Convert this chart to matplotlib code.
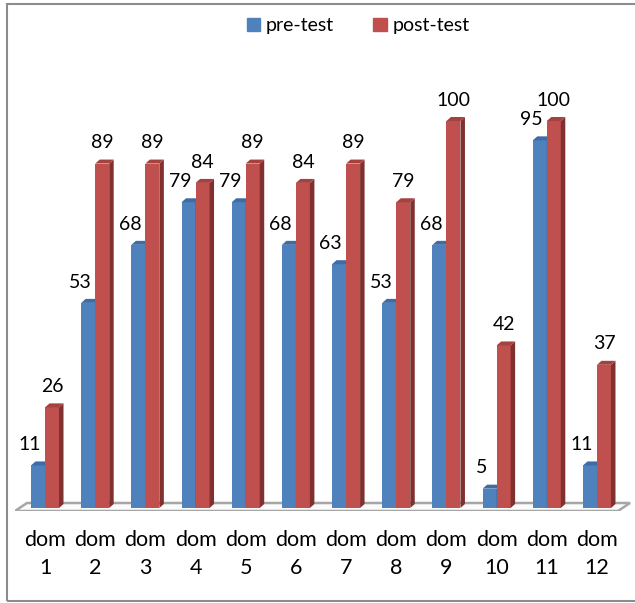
import matplotlib.pyplot as plt
from matplotlib.patches import Polygon, Rectangle, Patch

plt.rcParams['font.family'] = ['Lato', 'DejaVu Sans']

domains = ['dom\n1', 'dom\n2', 'dom\n3', 'dom\n4', 'dom\n5', 'dom\n6',
           'dom\n7', 'dom\n8', 'dom\n9', 'dom\n10', 'dom\n11', 'dom\n12']
pre_test = [11, 53, 68, 79, 79, 68, 63, 53, 68, 5, 95, 11]
post_test = [26, 89, 89, 84, 89, 84, 89, 79, 100, 42, 100, 37]

blue = '#4f81bd'
blue_top = '#3d6ca6'
blue_side = '#385f8f'
red = '#c0504d'
red_top = '#a4423f'
red_side = '#80302e'

W, H = 635, 603
fig = plt.figure(figsize=(W / 100, H / 100), dpi=100)

# plot area in pixel terms: group spacing ~50.2px, 3.87px per unit
px_unit_x = 50.18
px_unit_y = 3.87
x0_px, x1_px = 15, 632
y_top_px, y_bot_px = 60, 511
ax = fig.add_axes([x0_px / W, 1 - y_bot_px / H,
                   (x1_px - x0_px) / W, (y_bot_px - y_top_px) / H])
ax.set_xlim((x0_px - 45) / px_unit_x, (x1_px - 45) / px_unit_x)
ax.set_ylim((508 - y_bot_px) / px_unit_y, (508 - y_top_px) / px_unit_y)
for s in ax.spines.values():
    s.set_visible(False)
ax.set_yticks([])

bw = 14 / px_unit_x      # bar width
dx = 4.5 / px_unit_x     # depth offset
dy = 4 / px_unit_y

# floor
fl = -3 / px_unit_y
fb = 5 / px_unit_y
floor = Polygon([((15 - 45) / px_unit_x, fl), ((618 - 45) / px_unit_x, fl),
                 ((630 - 45) / px_unit_x, fb), ((27 - 45) / px_unit_x, fb)],
                closed=True, facecolor='#fbfbfb', edgecolor='#a6a6a6',
                lw=1.8, zorder=1)
ax.add_patch(floor)


def bar3d(x, v, front, top, side):
    ax.bar(x, v, width=bw, align='edge', color=front, zorder=3)
    ax.add_patch(Polygon([(x + bw, 0), (x + bw + dx, dy), (x + bw + dx, v + dy), (x + bw, v)],
                         closed=True, facecolor=side, edgecolor='none', zorder=3))
    ax.add_patch(Polygon([(x, v), (x + bw, v), (x + bw + dx, v + dy), (x + dx, v + dy)],
                         closed=True, facecolor=top, edgecolor='none', zorder=3))


for i in range(len(domains)):
    bar3d(i - bw, pre_test[i], blue, blue_top, blue_side)
    bar3d(i, post_test[i], red, red_top, red_side)
    ax.annotate(str(pre_test[i]), (i - bw / 2, pre_test[i]), xytext=(-6, 15),
                textcoords='offset points', ha='center', va='center', fontsize=14)
    ax.annotate(str(post_test[i]), (i + bw / 2, post_test[i]), xytext=(0, 15),
                textcoords='offset points', ha='center', va='center', fontsize=14)

ax.set_xticks(range(len(domains)))
ax.set_xticklabels(domains, fontsize=15.5, linespacing=1.5)
ax.tick_params(axis='x', length=0, pad=14)

# legend
handles = [Patch(color=blue, label='pre-test'), Patch(color=red, label='post-test')]
fig.legend(handles=handles, loc='center', bbox_to_anchor=(0.564, 0.957), ncol=2,
           frameon=False, fontsize=14, handlelength=0.7, handleheight=0.7,
           handletextpad=0.3, columnspacing=2.0)

# outer border
fig.patches.append(Rectangle((7 / W, 1 - 601 / H), 1.0, (601 - 4) / H,
                             transform=fig.transFigure, fill=False,
                             edgecolor='#8c8c8c', lw=1.5))

fig.savefig('out.png', dpi=100)
